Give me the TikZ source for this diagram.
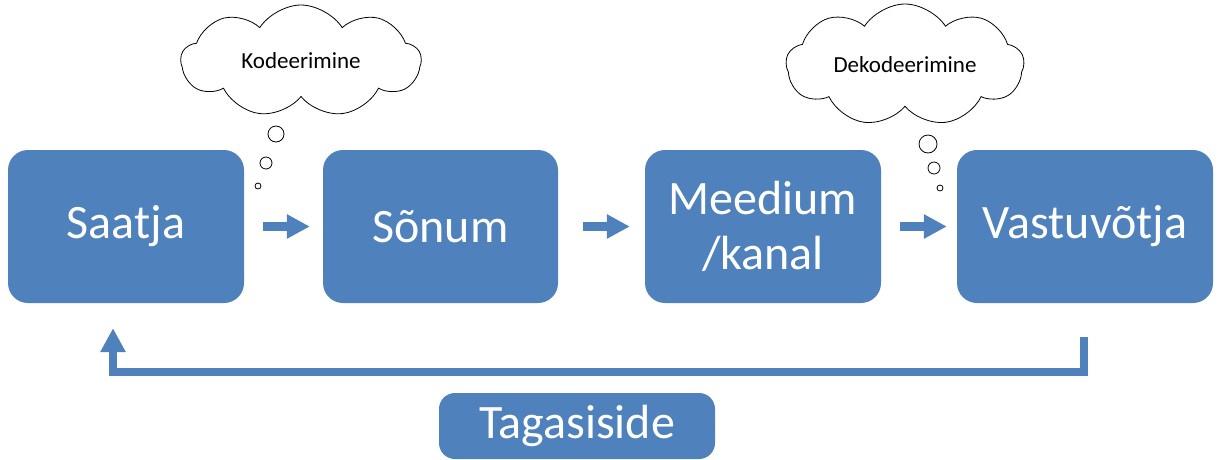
\documentclass[tikz,border=0pt]{standalone}
\usepackage{fontspec}
\setmainfont{Carlito}
\usetikzlibrary{arrows.meta,shapes.symbols}
\definecolor{boxblue}{HTML}{4F81BD}
\tikzset{
  stage/.style={rectangle, rounded corners=20pt, fill=boxblue, text=white, font=\fontsize{48}{55}\selectfont, align=center, minimum height=153pt, inner sep=0pt},
  fbbox/.style={rectangle, rounded corners=16pt, fill=boxblue, text=white, font=\fontsize{48}{55}\selectfont, minimum width=276pt, minimum height=66pt, inner sep=0pt},
  flow/.style={boxblue, line width=9pt, -{Triangle[width=23pt,length=23pt]}},
  fb/.style={boxblue, line width=8pt, -{Triangle[width=24pt,length=24pt]}},
  thought/.style={cloud, cloud puffs=9, cloud puff arc=115, cloud ignores aspect, draw=black, line width=0.8pt, fill=white, font=\fontsize{23}{26}\selectfont, inner sep=0pt},
  bubble/.style={circle, draw=black, line width=0.8pt, fill=white, inner sep=0pt}
}
\begin{document}
\begin{tikzpicture}[x=1pt,y=-1pt]
\useasboundingbox[fill=white] (0,0) rectangle (1218,459);
\node[stage, minimum width=236pt] (S) at (126,226.5) {Saatja};
\node[stage, minimum width=235pt] (M) at (440.5,226.5) {Sõnum};
\node[stage, minimum width=236pt] (K) at (763,226.5) {Meedium\\/kanal};
\node[stage, minimum width=256pt] (V) at (1085,226.5) {Vastuvõtja};
\node[fbbox] (T) at (577,426) {Tagasiside};

\draw[flow, shorten <=19pt, shorten >=13pt] (S.east) -- (M.west);
\draw[flow, shorten <=25pt, shorten >=15pt] (M.east) -- (K.west);
\draw[flow, shorten <=19pt, shorten >=10pt] (K.east) -- (V.west);

\coordinate (fbR) at ([xshift=-1pt,yshift=-34pt]V.south);
\coordinate (fbS) at ([xshift=-13pt,yshift=-25pt]S.south);
\draw[fb] (fbR) |- ([yshift=-44pt]fbS) -- (fbS);

\node[thought, minimum width=240pt, minimum height=112pt] (C1) at (301,61) {Kodeerimine};
\node[bubble, minimum size=16pt] (b11) at (276,134) {};
\node[bubble, minimum size=12pt] (b12) at (266,163) {};
\node[bubble, minimum size=6pt] (b13) at (258,186) {};

\node[thought, minimum width=238pt, minimum height=122pt] (C2) at (905,65) {Dekodeerimine};
\node[bubble, minimum size=18pt] (b21) at (928,144) {};
\node[bubble, minimum size=12pt] (b22) at (934,168) {};
\node[bubble, minimum size=6pt] (b23) at (940,188) {};
\end{tikzpicture}
\end{document}
